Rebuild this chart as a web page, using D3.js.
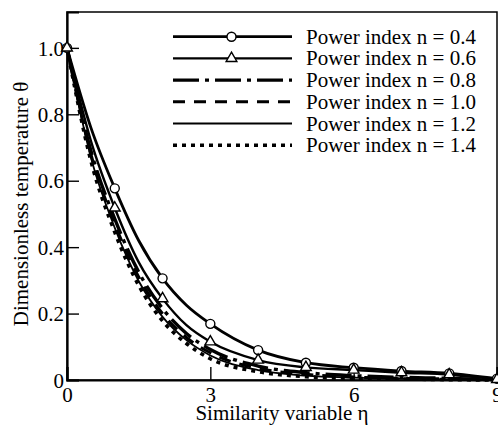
<!DOCTYPE html>
<html>
<head>
<meta charset="utf-8">
<script src="https://cdn.jsdelivr.net/npm/d3@7"></script>
<style>
  html, body { margin: 0; padding: 0; background: #fff; }
</style>
</head>
<body>
<div id="grafico"></div>
<script>
// ==================== dados ====================
const eta = [0, 0.5, 1, 1.5, 2, 2.5, 3, 4, 5, 6, 7, 8, 9];

const theta04 = [1.0, 0.76, 0.577, 0.42, 0.306, 0.225, 0.169, 0.090, 0.052, 0.037, 0.027, 0.020, 0.004];
const theta06 = [1.0, 0.72, 0.518, 0.355, 0.245, 0.165, 0.115, 0.060, 0.038, 0.030, 0.022, 0.016, 0.002];
const theta08 = [1.0, 0.69, 0.485, 0.325, 0.215, 0.140, 0.092, 0.042, 0.022, 0.013, 0.008, 0.005, 0];
const theta10 = [1.0, 0.68, 0.470, 0.310, 0.200, 0.128, 0.082, 0.035, 0.017, 0.009, 0.005, 0.003, 0];
const theta12 = [1.0, 0.67, 0.458, 0.298, 0.190, 0.120, 0.074, 0.030, 0.013, 0.007, 0.004, 0.002, 0];
const theta14 = [1.0, 0.66, 0.445, 0.285, 0.178, 0.110, 0.064, 0.025, 0.010, 0.005, 0.003, 0.001, 0];

const legendLabels = ["Power index n = 0.4", "Power index n = 0.6", "Power index n = 0.8",
                      "Power index n = 1.0", "Power index n = 1.2", "Power index n = 1.4"];

const xTicks = [0, 3, 6, 9];
const yTicks = [0, 0.2, 0.4, 0.6, 0.8, 1.0];

// estilos de cada série
const estilos = [
    {valores: theta04, largura: 2.8, traco: null, marcador: "circle"},
    {valores: theta06, largura: 2.4, traco: null, marcador: "triangle"},
    {valores: theta08, largura: 3.4, traco: "26,6,4,6", marcador: null},
    {valores: theta10, largura: 3, traco: "12,9", marcador: null},
    {valores: theta12, largura: 1.8, traco: null, marcador: null},
    {valores: theta14, largura: 3.6, traco: "4,5", marcador: null}
];

const fonte = "'Liberation Serif', 'Times New Roman', serif";
const tamanho = 21;

// ==================== dimensões e escalas ====================
const width = 498;
const height = 427;
const marginLeft = 67;
const marginRight = 1;
const marginTop = 12;
const marginBottom = 47;

const x = d3.scaleLinear()
    .domain([0, 9])
    .range([marginLeft, width - marginRight]);

const y = d3.scaleLinear()
    .domain([0, 1.108])
    .range([height - marginBottom, marginTop]);

const svg = d3.select("#grafico")
    .append("svg")
    .attr("width", width)
    .attr("height", height)
    .attr("viewBox", [0, 0, width, height])
    .attr("font-family", fonte);

// moldura
svg.append("rect")
    .attr("x", x(0))
    .attr("y", y(1.108))
    .attr("width", x(9) - x(0))
    .attr("height", y(0) - y(1.108))
    .attr("fill", "none")
    .attr("stroke", "#000")
    .attr("stroke-width", 1.5);

// eixos
const eixoX = svg.append("g")
    .attr("transform", `translate(0,${y(0)})`)
    .call(d3.axisBottom(x).tickValues(xTicks).tickSize(-13).tickPadding(0).tickFormat(d3.format("d")))
    .attr("font-family", fonte)
    .attr("font-size", tamanho);
eixoX.select(".domain").attr("stroke-width", 2.2);
eixoX.selectAll(".tick line").attr("stroke-width", 1.4);
eixoX.selectAll(".tick text")
    .attr("dy", null)
    .attr("y", 22);

const eixoY = svg.append("g")
    .attr("transform", `translate(${x(0)},0)`)
    .call(d3.axisLeft(y).tickValues(yTicks).tickSize(-12).tickPadding(0)
        .tickFormat(d => d === 0 ? "0" : d3.format(".1f")(d)))
    .attr("font-family", fonte)
    .attr("font-size", tamanho);
eixoY.select(".domain").attr("stroke-width", 2.2);
eixoY.selectAll(".tick line").attr("stroke-width", 1.4);
eixoY.selectAll(".tick text")
    .attr("x", -3)
    .attr("dy", "0.34em");

// títulos
svg.append("text")
    .attr("x", (x(0) + x(9)) / 2)
    .attr("y", 420)
    .attr("text-anchor", "middle")
    .attr("font-size", tamanho)
    .text("Similarity variable η");

svg.append("text")
    .attr("transform", `translate(28,${y(0.53)}) rotate(-90)`)
    .attr("text-anchor", "middle")
    .attr("font-size", tamanho)
    .text("Dimensionless temperature θ");

// ==================== curvas ====================
const linha = d3.line()
    .x((d, i) => x(eta[i]))
    .y(d => y(d))
    .curve(d3.curveMonotoneX);

const plot = svg.append("g");

estilos.slice().reverse().forEach(s => {
    plot.append("path")
        .attr("d", linha(s.valores))
        .attr("fill", "none")
        .attr("stroke", "#000")
        .attr("stroke-width", s.largura)
        .attr("stroke-dasharray", s.traco);
});

const simbolo = {
    circle: d3.symbol().type(d3.symbolCircle).size(64),
    triangle: d3.symbol().type(d3.symbolTriangle).size(50)
};

estilos.forEach(s => {
    if (!s.marcador) return;
    const pontos = eta.map((e, i) => ({e, v: s.valores[i]})).filter(p => Number.isInteger(p.e));
    plot.selectAll(null)
        .data(pontos)
        .join("path")
        .attr("transform", p => `translate(${x(p.e)},${y(p.v)})`)
        .attr("d", simbolo[s.marcador]())
        .attr("fill", "#fff")
        .attr("stroke", "#000")
        .attr("stroke-width", 1.4);
});

// ==================== legenda ====================
const legenda = svg.append("g");
const legX0 = 173, legX1 = 292, legY0 = 36.7, legPasso = 21.7;

estilos.forEach((s, i) => {
    const yy = legY0 + i * legPasso;
    legenda.append("line")
        .attr("x1", legX0).attr("x2", legX1)
        .attr("y1", yy).attr("y2", yy)
        .attr("stroke", "#000")
        .attr("stroke-width", s.largura)
        .attr("stroke-dasharray", s.traco);
    if (s.marcador) {
        legenda.append("path")
            .attr("transform", `translate(${(legX0 + legX1) / 2 - 1},${yy})`)
            .attr("d", simbolo[s.marcador]())
            .attr("fill", "#fff")
            .attr("stroke", "#000")
            .attr("stroke-width", 1.4);
    }
    legenda.append("text")
        .attr("x", 306)
        .attr("y", yy + 7)
        .attr("font-size", tamanho)
        .text(legendLabels[i]);
});
</script>
</body>
</html>
